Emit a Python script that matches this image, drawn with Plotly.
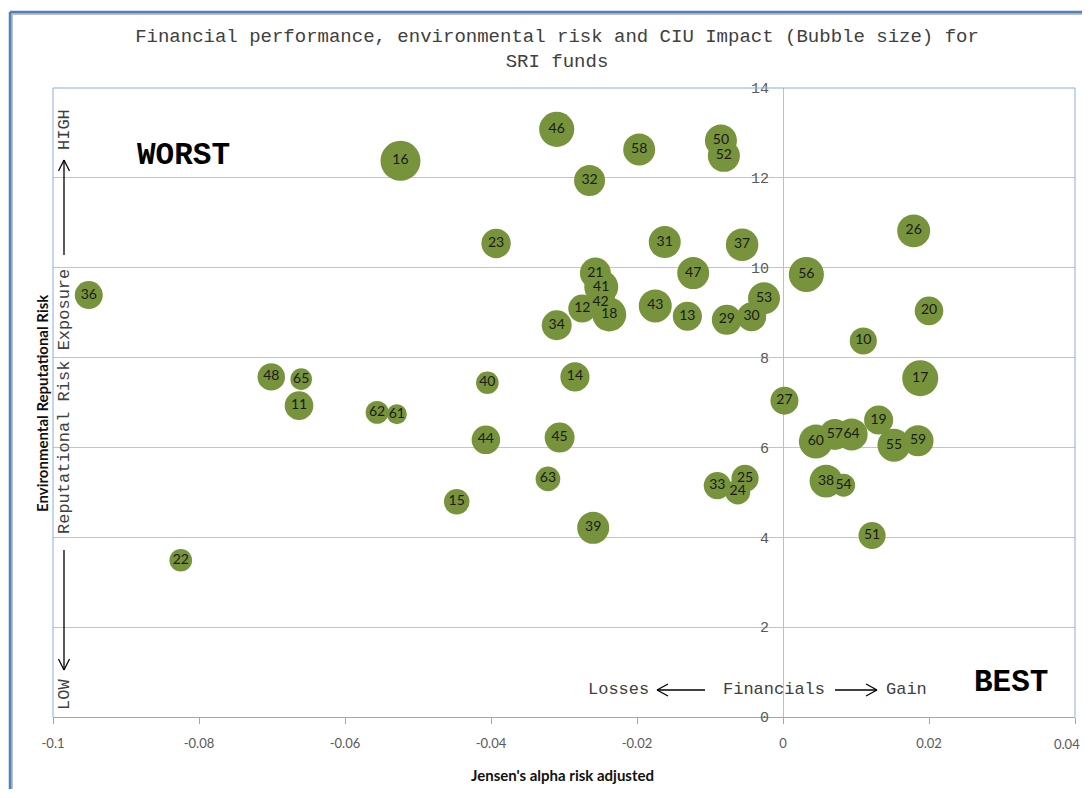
import plotly.graph_objects as go

# ---------------- data ----------------
fund_ids = [10, 11, 12, 13, 14, 15, 16, 17, 18, 19, 20, 21, 22, 23, 24, 25, 26, 27,
            29, 30, 31, 32, 33, 34, 36, 37, 38, 39, 40, 41, 42, 43, 44, 45, 46, 47,
            48, 50, 51, 52, 53, 54, 55, 56, 57, 58, 59, 60, 61, 62, 63, 64, 65]

jensen_alpha = [0.0110, -0.0663, -0.0275, -0.0131, -0.0285, -0.0447, -0.0524, 0.0188,
                -0.0238, 0.0131, 0.0200, -0.0257, -0.0825, -0.0393, -0.0062, -0.0052,
                0.0179, 0.0002, -0.0077, -0.0043, -0.0162, -0.0265, -0.0090, -0.0310,
                -0.0951, -0.0056, 0.0059, -0.0260, -0.0405, -0.0249, -0.0250, -0.0175,
                -0.0407, -0.0306, -0.0310, -0.0123, -0.0701, -0.0085, 0.0122, -0.0081,
                -0.0026, 0.0083, 0.0152, 0.0032, 0.0071, -0.0197, 0.0185, 0.0045,
                -0.0529, -0.0556, -0.0322, 0.0094, -0.0660]

env_risk = [8.37, 6.93, 9.09, 8.92, 7.57, 4.79, 12.38, 7.54, 8.96, 6.61, 9.04, 9.88,
            3.49, 10.54, 5.01, 5.31, 10.82, 7.04, 8.84, 8.91, 10.57, 11.94, 5.15, 8.72,
            9.39, 10.51, 5.25, 4.21, 7.44, 9.57, 9.23, 9.15, 6.17, 6.22, 13.08, 9.88,
            7.57, 12.83, 4.04, 12.49, 9.32, 5.16, 6.05, 9.85, 6.29, 12.63, 6.15, 6.13,
            6.74, 6.78, 5.30, 6.29, 7.52]

# CIU impact (bubble size, relative units proportional to bubble area)
ciu_impact = [46, 51, 49, 53, 53, 41, 100, 81, 72, 53, 51, 60, 32, 54, 39, 46, 68, 49,
              56, 53, 64, 60, 46, 56, 49, 66, 68, 64, 32, 72, 56, 68, 51, 56, 77, 64,
              47, 64, 46, 64, 64, 33, 68, 77, 60, 64, 60, 72, 25, 33, 38, 64, 29]

x_tick_vals = [-0.1, -0.08, -0.06, -0.04, -0.02, 0, 0.02, 0.04]
x_tick_text = ["-0.1", "-0.08", "-0.06", "-0.04", "-0.02", "0", "0.02", "0.04"]
y_tick_vals = [0, 2, 4, 6, 8, 10, 12, 14]
y_tick_text = ["0", "2", "4", "6", "8", "10", "12", "14"]
x_range = [-0.1, 0.04]
y_range = [0, 14]

title_text = ("Financial performance, environmental risk and CIU Impact (Bubble size) for"
              "<br>SRI funds")
x_title = "Jensen's alpha risk adjusted"
y_title = "Environmental Reputational Risk"

# ---------------- layout geometry ----------------
OFF = 8                      # page body margin of the browser (all sides)
W, H = 1091 - 2 * OFF, 798 - 2 * OFF
ML, MT = 53 - OFF, 88 - OFF
MR = W - (1075 - OFF)
MB = H - (717 - OFF)
PW, PH = W - ML - MR, H - MT - MB
REF_R, REF_B = W + OFF - 1, H + OFF - 1   # last reference pixel covered by the figure


def px2x(px):
    """reference-picture pixel x -> paper x"""
    return (px - OFF - ML) / PW


def py2y(py):
    """reference-picture pixel y -> paper y"""
    return (H - MB - (py - OFF)) / PH


MONO = "Liberation Mono, Courier New, monospace"
SANS = "Lato, Open Sans, sans-serif"
GREEN = "#77933C"
tickfont_x = dict(family=SANS, size=13, color="#595959")

fig = go.Figure()
fig.add_trace(go.Scatter(
    x=jensen_alpha, y=env_risk, text=[str(f) for f in fund_ids],
    mode="markers+text", textposition="middle center",
    textfont=dict(family=SANS, size=14, color="#1a1a1a"),
    marker=dict(size=ciu_impact, sizemode="area", sizeref=2 * 100 / 40 ** 2,
                color=GREEN, opacity=1, line=dict(width=0)),
    cliponaxis=False, showlegend=False,
    hovertemplate="Fund %{text}<br>alpha=%{x}<br>risk=%{y}<extra></extra>",
))

y_axis_pos = (0 - x_range[0]) / (x_range[1] - x_range[0])

# the last x tick label sits on the right edge of the figure; it is written as a
# right-aligned label so that it stays inside the page
axis_tick_text = x_tick_text[:-1] + [""]

fig.update_layout(
    width=W, height=H, autosize=False,
    margin=dict(l=ML, r=MR, t=MT, b=MB),
    paper_bgcolor="white", plot_bgcolor="white",
    title=dict(text=title_text, x=(557 - OFF) / W, xanchor="center", xref="container",
               y=1 - (42 - OFF) / H, yanchor="middle", yref="container",
               font=dict(family=MONO, size=19, color="#404040")),
    xaxis=dict(range=x_range, tickvals=x_tick_vals, ticktext=axis_tick_text,
               showgrid=False, showline=True, linecolor="#A6A6A6", linewidth=1,
               ticks="outside", ticklen=6, tickcolor="#A6A6A6",
               zeroline=True, zerolinecolor="#BFBFBF", zerolinewidth=1,
               tickfont=tickfont_x, ticklabelstandoff=8),
    yaxis=dict(range=y_range, tickvals=y_tick_vals, ticktext=y_tick_text,
               anchor="free", position=y_axis_pos,
               showgrid=True, gridcolor="#C4C4C4", gridwidth=1,
               zeroline=False, showline=False, ticks="",
               tickfont=dict(family=MONO, size=15, color="#595959"),
               ticklabelstandoff=14),
)


def label(text, px, py, font, angle=0, xanchor="center"):
    return dict(text=text, x=px2x(px), y=py2y(py), xref="paper", yref="paper",
                xanchor=xanchor, yanchor="middle", textangle=angle,
                showarrow=False, font=font)


tfont = dict(family=SANS, size=15, color="#111111")
bigfont = dict(family=MONO, size=31, color="#000000")
vfont = dict(family=MONO, size=17, color="#404040")

ann = [
    label("<b>%s</b>" % y_title, 42, 403, tfont, -90),
    label("<b>%s</b>" % x_title, 562, 775, tfont),
    label("<b>WORST</b>", 183, 155, bigfont),
    label("<b>BEST</b>", 1011, 682, bigfont),
    label("HIGH", 64, 130, vfont, -90),
    label("Reputational Risk Exposure", 64, 402, vfont, -90),
    label("LOW", 64, 695, vfont, -90),
    label("Losses", 618, 689, vfont),
    label("Financials", 774, 689, vfont),
    label("Gain", 906, 689, vfont),
    dict(text=x_tick_text[-1], x=1.0, xref="paper", xanchor="right", xshift=7,
         y=py2y(744), yref="paper", yanchor="middle", showarrow=False,
         font=tickfont_x),
]
fig.update_layout(annotations=ann)


def seg(x0, y0, x1, y1, color="#000000", width=1.3):
    return dict(type="line", xref="paper", yref="paper",
                x0=px2x(x0), y0=py2y(y0), x1=px2x(x1), y1=py2y(y1),
                line=dict(color=color, width=width), layer="above")


shapes = []
# arrows (vertical)
shapes += [seg(64, 255, 64, 160), seg(64, 160, 58.5, 171), seg(64, 160, 69.5, 171)]
shapes += [seg(64, 550, 64, 670), seg(64, 670, 58.5, 659), seg(64, 670, 69.5, 659)]
# arrows (horizontal)
shapes += [seg(705, 690, 657, 690), seg(657, 690, 668, 684), seg(657, 690, 668, 696)]
shapes += [seg(835, 690, 877, 690), seg(877, 690, 866, 684), seg(877, 690, 866, 696)]
# plot area border (left, top, right)
pb = "#8CADD8"
L, R, T, B = 53, 1075, 88, 717
shapes += [seg(L, T, L, B, pb, 1), seg(L, T, R, T, pb, 1), seg(R, T, R, B, pb, 1)]
# chart outer border (kept inside the figure so the page does not overflow)
shapes += [seg(10, 14, REF_R, 14, "#BFBFBF", 2), seg(12, 14, 12, REF_B, "#BFBFBF", 2)]
shapes += [seg(10, 12, REF_R, 12, "#4F81BD", 2.5), seg(10, 12, 10, REF_B, "#4F81BD", 2.5)]
fig.update_layout(shapes=shapes)

fig.write_html("out.html")
